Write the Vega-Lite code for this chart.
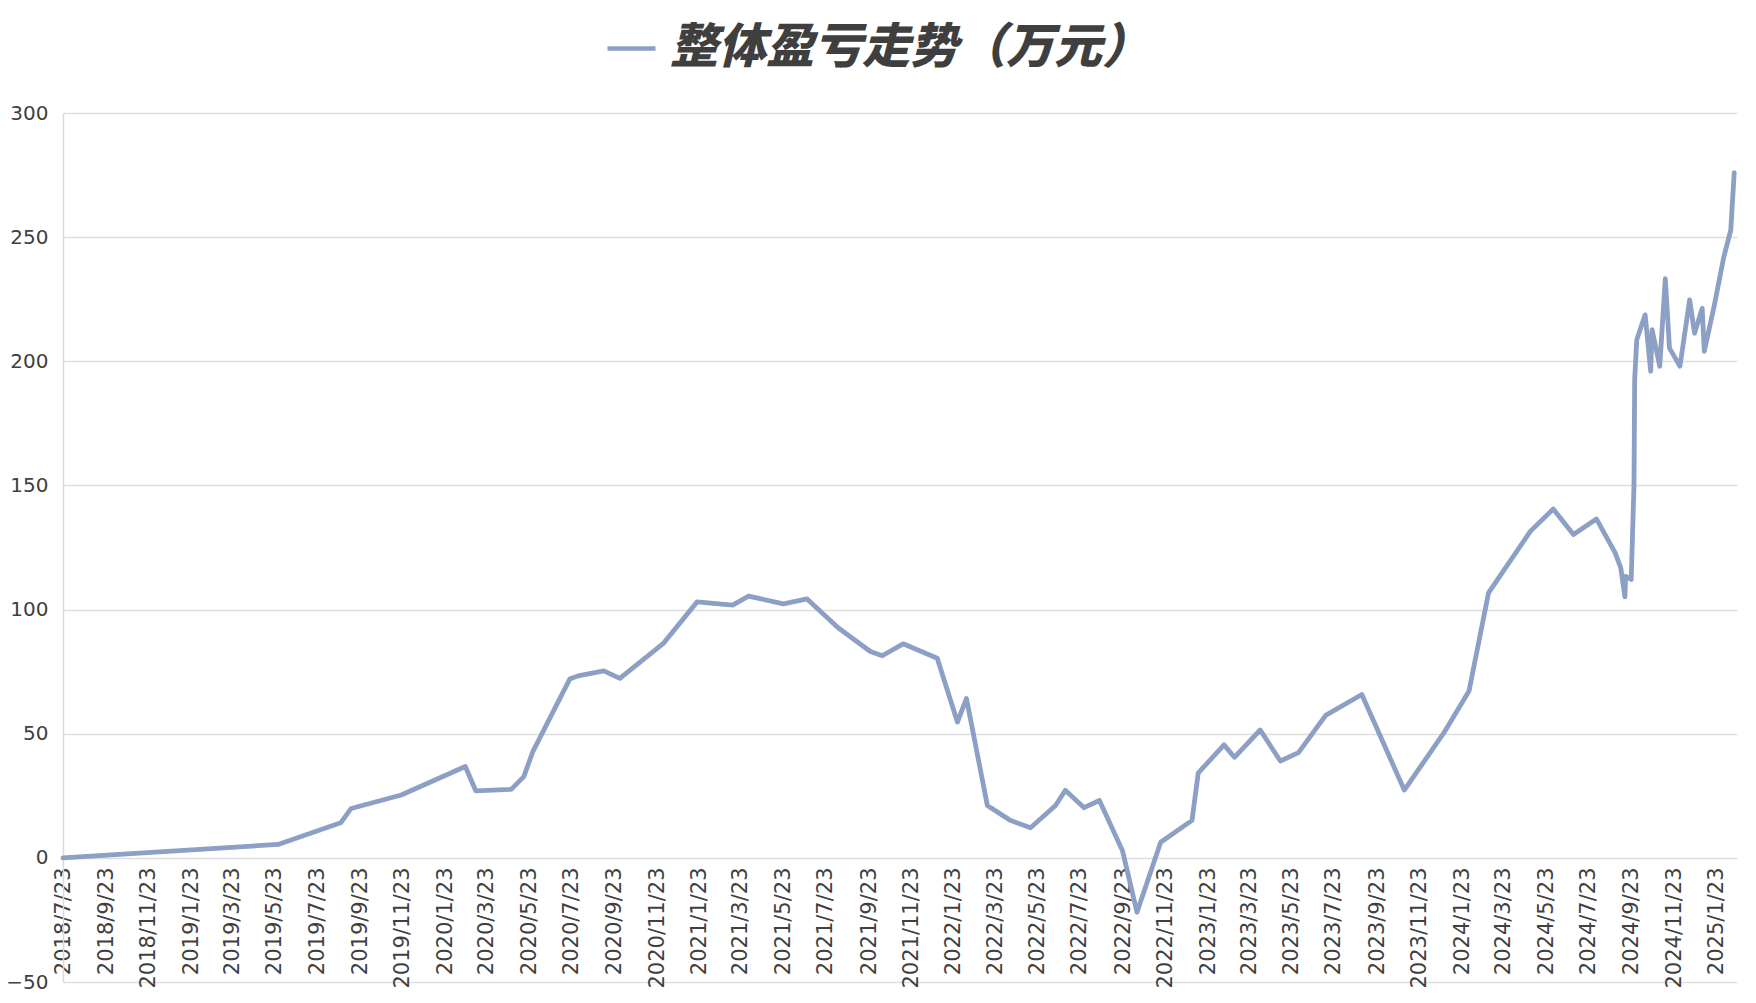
{
  "$schema": "https://vega.github.io/schema/vega-lite/v6.json",
  "width": 1674,
  "height": 869,
  "autosize": {"type": "none"},
  "padding": {"left": 63, "top": 113, "right": 19, "bottom": 21},
  "background": "#ffffff",
  "config": {
    "view": {"stroke": null},
    "axis": {"labelFont": "DejaVu Sans", "labelColor": "#404040"}
  },
  "data": {
    "values": [
      {"date": "2018-07-23", "value": 0, "series": "整体盈亏走势（万元）"},
      {"date": "2019-05-28", "value": 5.4, "series": "整体盈亏走势（万元）"},
      {"date": "2019-08-26", "value": 14.1, "series": "整体盈亏走势（万元）"},
      {"date": "2019-09-10", "value": 19.9, "series": "整体盈亏走势（万元）"},
      {"date": "2019-11-21", "value": 25.3, "series": "整体盈亏走势（万元）"},
      {"date": "2020-02-21", "value": 36.8, "series": "整体盈亏走势（万元）"},
      {"date": "2020-03-07", "value": 27, "series": "整体盈亏走势（万元）"},
      {"date": "2020-04-27", "value": 27.6, "series": "整体盈亏走势（万元）"},
      {"date": "2020-05-15", "value": 32.7, "series": "整体盈亏走势（万元）"},
      {"date": "2020-05-28", "value": 42.8, "series": "整体盈亏走势（万元）"},
      {"date": "2020-07-20", "value": 72, "series": "整体盈亏走势（万元）"},
      {"date": "2020-08-01", "value": 73.3, "series": "整体盈亏走势（万元）"},
      {"date": "2020-09-07", "value": 75.3, "series": "整体盈亏走势（万元）"},
      {"date": "2020-09-30", "value": 72.3, "series": "整体盈亏走势（万元）"},
      {"date": "2020-12-02", "value": 86.5, "series": "整体盈亏走势（万元）"},
      {"date": "2021-01-19", "value": 103.1, "series": "整体盈亏走势（万元）"},
      {"date": "2021-03-11", "value": 101.8, "series": "整体盈亏走势（万元）"},
      {"date": "2021-04-03", "value": 105.4, "series": "整体盈亏走势（万元）"},
      {"date": "2021-05-23", "value": 102.3, "series": "整体盈亏走势（万元）"},
      {"date": "2021-06-26", "value": 104.3, "series": "整体盈亏走势（万元）"},
      {"date": "2021-08-10", "value": 92.6, "series": "整体盈亏走势（万元）"},
      {"date": "2021-09-25", "value": 83.1, "series": "整体盈亏走势（万元）"},
      {"date": "2021-10-12", "value": 81.4, "series": "整体盈亏走势（万元）"},
      {"date": "2021-11-11", "value": 86.2, "series": "整体盈亏走势（万元）"},
      {"date": "2021-12-30", "value": 80.4, "series": "整体盈亏走势（万元）"},
      {"date": "2022-01-28", "value": 54.7, "series": "整体盈亏走势（万元）"},
      {"date": "2022-02-10", "value": 64.2, "series": "整体盈亏走势（万元）"},
      {"date": "2022-03-12", "value": 21.1, "series": "整体盈亏走势（万元）"},
      {"date": "2022-04-14", "value": 15.1, "series": "整体盈亏走势（万元）"},
      {"date": "2022-05-13", "value": 12.1, "series": "整体盈亏走势（万元）"},
      {"date": "2022-06-18", "value": 21.1, "series": "整体盈亏走势（万元）"},
      {"date": "2022-07-02", "value": 27.2, "series": "整体盈亏走势（万元）"},
      {"date": "2022-07-29", "value": 20.2, "series": "整体盈亏走势（万元）"},
      {"date": "2022-08-20", "value": 23.1, "series": "整体盈亏走势（万元）"},
      {"date": "2022-09-22", "value": 3.0, "series": "整体盈亏走势（万元）"},
      {"date": "2022-10-13", "value": -21.9, "series": "整体盈亏走势（万元）"},
      {"date": "2022-11-16", "value": 6.3, "series": "整体盈亏走势（万元）"},
      {"date": "2022-12-31", "value": 15.1, "series": "整体盈亏走势（万元）"},
      {"date": "2023-01-09", "value": 34.2, "series": "整体盈亏走势（万元）"},
      {"date": "2023-02-15", "value": 45.5, "series": "整体盈亏走势（万元）"},
      {"date": "2023-03-02", "value": 40.5, "series": "整体盈亏走势（万元）"},
      {"date": "2023-04-08", "value": 51.5, "series": "整体盈亏走势（万元）"},
      {"date": "2023-05-07", "value": 39, "series": "整体盈亏走势（万元）"},
      {"date": "2023-06-02", "value": 42.4, "series": "整体盈亏走势（万元）"},
      {"date": "2023-07-11", "value": 57.4, "series": "整体盈亏走势（万元）"},
      {"date": "2023-09-01", "value": 65.8, "series": "整体盈亏走势（万元）"},
      {"date": "2023-11-01", "value": 27.3, "series": "整体盈亏走势（万元）"},
      {"date": "2023-12-28", "value": 50.4, "series": "整体盈亏走势（万元）"},
      {"date": "2024-02-02", "value": 67.2, "series": "整体盈亏走势（万元）"},
      {"date": "2024-03-01", "value": 106.7, "series": "整体盈亏走势（万元）"},
      {"date": "2024-04-30", "value": 131.5, "series": "整体盈亏走势（万元）"},
      {"date": "2024-06-02", "value": 140.5, "series": "整体盈亏走势（万元）"},
      {"date": "2024-07-01", "value": 130.2, "series": "整体盈亏走势（万元）"},
      {"date": "2024-08-03", "value": 136.5, "series": "整体盈亏走势（万元）"},
      {"date": "2024-08-30", "value": 122.8, "series": "整体盈亏走势（万元）"},
      {"date": "2024-09-07", "value": 116.8, "series": "整体盈亏走势（万元）"},
      {"date": "2024-09-13", "value": 105.1, "series": "整体盈亏走势（万元）"},
      {"date": "2024-09-14", "value": 113.4, "series": "整体盈亏走势（万元）"},
      {"date": "2024-09-22", "value": 112.1, "series": "整体盈亏走势（万元）"},
      {"date": "2024-09-26", "value": 150, "series": "整体盈亏走势（万元）"},
      {"date": "2024-09-27", "value": 192.7, "series": "整体盈亏走势（万元）"},
      {"date": "2024-09-30", "value": 208.7, "series": "整体盈亏走势（万元）"},
      {"date": "2024-10-12", "value": 218.7, "series": "整体盈亏走势（万元）"},
      {"date": "2024-10-20", "value": 196, "series": "整体盈亏走势（万元）"},
      {"date": "2024-10-22", "value": 212.7, "series": "整体盈亏走势（万元）"},
      {"date": "2024-11-02", "value": 198, "series": "整体盈亏走势（万元）"},
      {"date": "2024-11-10", "value": 233.3, "series": "整体盈亏走势（万元）"},
      {"date": "2024-11-16", "value": 205.3, "series": "整体盈亏走势（万元）"},
      {"date": "2024-12-01", "value": 198, "series": "整体盈亏走势（万元）"},
      {"date": "2024-12-15", "value": 224.7, "series": "整体盈亏走势（万元）"},
      {"date": "2024-12-22", "value": 211.3, "series": "整体盈亏走势（万元）"},
      {"date": "2025-01-02", "value": 221.3, "series": "整体盈亏走势（万元）"},
      {"date": "2025-01-05", "value": 204, "series": "整体盈亏走势（万元）"},
      {"date": "2025-01-19", "value": 222, "series": "整体盈亏走势（万元）"},
      {"date": "2025-02-02", "value": 242, "series": "整体盈亏走势（万元）"},
      {"date": "2025-02-12", "value": 252.7, "series": "整体盈亏走势（万元）"},
      {"date": "2025-02-17", "value": 276, "series": "整体盈亏走势（万元）"}
    ]
  },
  "mark": {"type": "line", "strokeWidth": 4.8, "strokeJoin": "round", "strokeCap": "round"},
  "encoding": {
    "x": {
      "field": "date",
      "type": "temporal",
      "scale": {
        "type": "utc",
        "domain": [
          {"year": 2018, "month": 7, "date": 23, "utc": true},
          {"year": 2025, "month": 2, "date": 21, "utc": true}
        ],
        "nice": false
      },
      "axis": {
        "title": null,
        "offset": -124,
        "domain": false,
        "ticks": false,
        "grid": false,
        "labelAngle": 270,
        "labelFontSize": 21,
        "labelPadding": 9,
        "labelOverlap": false,
        "labelBound": false,
        "labelFlush": false,
        "format": "%Y/%-m/%-d",
        "values": [
          {"year": 2018, "month": 7, "date": 23, "utc": true},
          {"year": 2018, "month": 9, "date": 23, "utc": true},
          {"year": 2018, "month": 11, "date": 23, "utc": true},
          {"year": 2019, "month": 1, "date": 23, "utc": true},
          {"year": 2019, "month": 3, "date": 23, "utc": true},
          {"year": 2019, "month": 5, "date": 23, "utc": true},
          {"year": 2019, "month": 7, "date": 23, "utc": true},
          {"year": 2019, "month": 9, "date": 23, "utc": true},
          {"year": 2019, "month": 11, "date": 23, "utc": true},
          {"year": 2020, "month": 1, "date": 23, "utc": true},
          {"year": 2020, "month": 3, "date": 23, "utc": true},
          {"year": 2020, "month": 5, "date": 23, "utc": true},
          {"year": 2020, "month": 7, "date": 23, "utc": true},
          {"year": 2020, "month": 9, "date": 23, "utc": true},
          {"year": 2020, "month": 11, "date": 23, "utc": true},
          {"year": 2021, "month": 1, "date": 23, "utc": true},
          {"year": 2021, "month": 3, "date": 23, "utc": true},
          {"year": 2021, "month": 5, "date": 23, "utc": true},
          {"year": 2021, "month": 7, "date": 23, "utc": true},
          {"year": 2021, "month": 9, "date": 23, "utc": true},
          {"year": 2021, "month": 11, "date": 23, "utc": true},
          {"year": 2022, "month": 1, "date": 23, "utc": true},
          {"year": 2022, "month": 3, "date": 23, "utc": true},
          {"year": 2022, "month": 5, "date": 23, "utc": true},
          {"year": 2022, "month": 7, "date": 23, "utc": true},
          {"year": 2022, "month": 9, "date": 23, "utc": true},
          {"year": 2022, "month": 11, "date": 23, "utc": true},
          {"year": 2023, "month": 1, "date": 23, "utc": true},
          {"year": 2023, "month": 3, "date": 23, "utc": true},
          {"year": 2023, "month": 5, "date": 23, "utc": true},
          {"year": 2023, "month": 7, "date": 23, "utc": true},
          {"year": 2023, "month": 9, "date": 23, "utc": true},
          {"year": 2023, "month": 11, "date": 23, "utc": true},
          {"year": 2024, "month": 1, "date": 23, "utc": true},
          {"year": 2024, "month": 3, "date": 23, "utc": true},
          {"year": 2024, "month": 5, "date": 23, "utc": true},
          {"year": 2024, "month": 7, "date": 23, "utc": true},
          {"year": 2024, "month": 9, "date": 23, "utc": true},
          {"year": 2024, "month": 11, "date": 23, "utc": true},
          {"year": 2025, "month": 1, "date": 23, "utc": true}
        ]
      }
    },
    "y": {
      "field": "value",
      "type": "quantitative",
      "scale": {"domain": [-50, 300], "nice": false, "zero": false},
      "axis": {
        "title": null,
        "values": [-50, 0, 50, 100, 150, 200, 250, 300],
        "ticks": false,
        "domain": true,
        "domainColor": "#d9d9d9",
        "domainWidth": 1.5,
        "grid": true,
        "gridColor": "#dedede",
        "gridWidth": 1.5,
        "labelFontSize": 20,
        "labelPadding": 15
      }
    },
    "color": {
      "field": "series",
      "type": "nominal",
      "scale": {"range": ["#8c9fc4"]},
      "legend": {
        "title": null,
        "orient": "none",
        "legendX": 542,
        "legendY": -91,
        "padding": 0,
        "symbolType": "stroke",
        "symbolSize": 2304,
        "symbolStrokeWidth": 4.5,
        "labelOffset": 12,
        "labelFont": "Noto Sans CJK SC",
        "labelFontSize": 48,
        "labelFontWeight": 900,
        "labelFontStyle": "italic",
        "labelColor": "#3f3f3f",
        "labelLimit": 0
      }
    }
  }
}
